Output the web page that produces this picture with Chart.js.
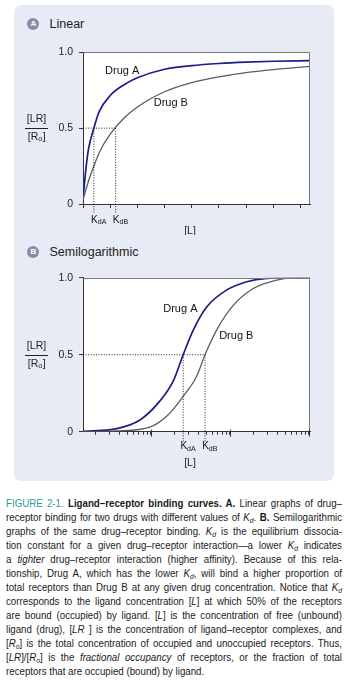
<!DOCTYPE html>
<html><head><meta charset="utf-8">
<script src="https://cdn.jsdelivr.net/npm/chart.js@4.4.1/dist/chart.umd.min.js"></script>
<style>
html,body{margin:0;padding:0;background:#fff;}
body{width:350px;height:681px;position:relative;overflow:hidden;font-family:'Liberation Sans',Arial,sans-serif;}
#panel{position:absolute;left:13.5px;top:5px;width:320.5px;height:476px;background:#e7ebf5;border-radius:7px;}
.badge{position:absolute;width:12px;height:12px;border-radius:50%;background:#8c8ca8;color:#fff;font:bold 8px 'Liberation Sans',sans-serif;text-align:center;line-height:12px;}
.ptitle{position:absolute;font-size:12.5px;color:#222;line-height:14px;white-space:nowrap;}
canvas{position:absolute;left:0;}
#cap{position:absolute;left:6px;top:496px;width:336px;font-family:'Liberation Sans',Arial,sans-serif;font-size:11.3px;line-height:14px;color:#1a1a1a;transform-origin:0 0;}
.l{text-align:justify;text-align-last:justify;height:14px;white-space:nowrap;}
.l.last{text-align-last:left;}
.fig{color:#2a9a98;}
sub{font-size:70%;vertical-align:-2px;line-height:0;}
</style></head>
<body>
<div id="panel"></div>
<div class="badge" style="left:27.3px;top:18.3px">A</div>
<div class="ptitle" style="left:49.5px;top:17.3px">Linear</div>
<div class="badge" style="left:27.3px;top:245.7px">B</div>
<div class="ptitle" style="left:49.5px;top:244.7px">Semilogarithmic</div>
<canvas id="cA" width="350" height="195" style="top:40px;width:350px;height:195px"></canvas>
<canvas id="cB" width="350" height="212" style="top:265px;width:350px;height:212px"></canvas>
<div id="cap">
<div class="l"><span class="fig">FIGURE 2-1.</span> <b>Ligand–receptor binding curves. A.</b> Linear graphs of drug–</div>
<div class="l">receptor binding for two drugs with different values of <i>K<sub>d</sub></i>. <b>B.</b> Semilogarithmic</div>
<div class="l">graphs of the same drug–receptor binding. <i>K<sub>d</sub></i> is the equilibrium dissocia-</div>
<div class="l">tion constant for a given drug–receptor interaction—a lower <i>K<sub>d</sub></i> indicates</div>
<div class="l">a <i>tighter</i> drug–receptor interaction (higher affinity). Because of this rela-</div>
<div class="l">tionship, Drug A, which has the lower <i>K<sub>d</sub></i>, will bind a higher proportion of</div>
<div class="l">total receptors than Drug B at any given drug concentration. Notice that <i>K<sub>d</sub></i></div>
<div class="l">corresponds to the ligand concentration [<i>L</i>] at which 50% of the receptors</div>
<div class="l">are bound (occupied) by ligand. [<i>L</i>] is the concentration of free (unbound)</div>
<div class="l">ligand (drug), [<i>LR</i> ] is the concentration of ligand–receptor complexes, and</div>
<div class="l">[<i>R<sub>o</sub></i>] is the total concentration of occupied and unoccupied receptors. Thus,</div>
<div class="l">[<i>LR</i>]/[<i>R<sub>o</sub></i>] is the <i>fractional occupancy</i> of receptors, or the fraction of total</div>
<div class="l last">receptors that are occupied (bound) by ligand.</div>
</div>
<script>
// ---- Data ----
// Panel A: linear [L] axis
const linL      = [0, 0.1, 0.2, 0.4, 0.6, 1.0, 1.5, 2, 3, 4, 5, 6, 7, 8.35];
const linDrugA  = [0.03, 0.22, 0.36, 0.5, 0.61, 0.715, 0.785, 0.832, 0.888, 0.912, 0.926, 0.935, 0.941, 0.945];
const linDrugB  = [0.03, 0.09, 0.15, 0.25, 0.34, 0.46, 0.565, 0.64, 0.74, 0.80, 0.838, 0.866, 0.886, 0.907];
const linTicks  = [0, 1, 2, 3, 4, 5, 6, 7, 8];
const linRange  = [0, 8.35];
const kdLin     = [0.4, 1.2];          // K_dA, K_dB
// Panel B: logarithmic [L] axis
const logLA     = [0.138, 0.368, 0.726, 1.3, 1.92, 2.56, 3.43, 5.07, 9.08, 16.3, 29.1, 60, 103];
const logDrugA  = [0.002, 0.02, 0.076, 0.2, 0.33, 0.5, 0.66, 0.81, 0.92, 0.974, 0.996, 1.0, 1.0];
const logLB     = [0.138, 0.368, 0.97, 1.58, 2.56, 3.79, 4.83, 6.78, 11, 19.7, 39, 70, 103];
const logDrugB  = [0.0, 0.005, 0.03, 0.1, 0.23, 0.36, 0.5, 0.66, 0.82, 0.93, 0.985, 1.0, 1.0];
const logTicks  = [0.2,0.3,0.4,0.5,0.6,0.7,0.8,0.9,1,2,3,4,5,6,7,8,9,10,20,30,40,50,60,70,80,90,100];
const logMajor  = [1, 10, 100];
const logRange  = [0.138, 103];
const kdLog     = [2.56, 4.83];        // K_dA, K_dB
// Shared
const yTicks    = [0, 0.5, 1];
const kdNames   = ['dA', 'dB'];
const seriesNames = ['Drug A', 'Drug B'];

const pts = (xs, ys) => xs.map((x, i) => ({x, y: ys[i]}));
const FONT = "'Liberation Sans', Arial, sans-serif";

function dotted(data){
  return {data, borderColor:'#222', borderWidth:1, borderDash:[1,1.6], pointRadius:0, clip:false, tension:0};
}

function framePlugin(o){
  return {
    id:'frame',
    beforeDraw(chart){
      const {ctx, chartArea:a} = chart;
      ctx.save(); ctx.fillStyle = '#fff';
      ctx.fillRect(a.left, a.top, a.right - a.left, a.bottom - a.top);
      ctx.restore();
    },
    afterDraw(chart){
      const {ctx, chartArea:a, scales} = chart;
      const xs = scales.x, ys = scales.y;
      ctx.save();
      ctx.strokeStyle = '#777'; ctx.lineWidth = 1;
      ctx.beginPath();
      ctx.moveTo(Math.round(a.left)+0.5, Math.round(a.top)+0.5);
      ctx.lineTo(Math.round(a.right)-0.5, Math.round(a.top)+0.5);
      ctx.lineTo(Math.round(a.right)-0.5, Math.round(a.bottom));
      ctx.stroke();
      if (o.major){
        ctx.strokeStyle = '#333';
        o.major.forEach(v => {
          const px = Math.round(xs.getPixelForValue(v)) + 0.5;
          ctx.beginPath(); ctx.moveTo(px, a.bottom - 2); ctx.lineTo(px, a.bottom + 5); ctx.stroke();
        });
      }
      ctx.fillStyle = '#111'; ctx.font = '11px ' + FONT;
      ctx.textAlign = 'left'; ctx.textBaseline = 'middle';
      o.labels.forEach((lb, i) => {
        ctx.fillText(seriesNames[i], xs.getPixelForValue(lb[0]), ys.getPixelForValue(lb[1]));
      });
      o.kd.forEach((k, i) => {
        const px = xs.getPixelForValue(k) - 2.8;
        const py = a.bottom + o.kdDy;
        ctx.font = '10px ' + FONT; ctx.textBaseline = 'middle';
        ctx.fillText('K', px, py);
        const w = ctx.measureText('K').width;
        ctx.font = '7px ' + FONT;
        ctx.fillText(kdNames[i], px + w, py + 2.5);
      });
      ctx.font = '10.5px ' + FONT; ctx.textAlign = 'center'; ctx.fillStyle = '#222';
      ctx.fillText('[L]', 190, a.bottom + o.xlDy);
      const yMid = ys.getPixelForValue(0.5);
      ctx.font = '10.5px ' + FONT;
      ctx.fillText('[LR]', 36.5, yMid - 9);
      const rw = ctx.measureText('[R').width, ow = ctx.measureText('o').width * 0.7, bw = ctx.measureText(']').width;
      const tot = rw + ow + bw; let sx = 36.5 - tot / 2;
      ctx.textAlign = 'left';
      ctx.fillText('[R', sx, yMid + 9);
      ctx.font = '7.5px ' + FONT; ctx.fillText('o', sx + rw, yMid + 11);
      ctx.font = '10.5px ' + FONT; ctx.fillText(']', sx + rw + ow + 0.5, yMid + 9);
      ctx.strokeStyle = '#222'; ctx.lineWidth = 1;
      ctx.beginPath(); ctx.moveTo(25, Math.round(yMid) + 0.5); ctx.lineTo(48, Math.round(yMid) + 0.5); ctx.stroke();
      ctx.restore();
    }
  };
}

function makeChart(id, o){
  const axisGrid = {display:true, drawOnChartArea:false, drawTicks:true, tickLength:o.tickLen, tickColor:'#333', tickWidth:1};
  return new Chart(document.getElementById(id), {
    type:'line',
    data:{datasets:[
      dotted([{x:o.range[0], y:0.5}, {x:o.kd[1], y:0.5}]),
      dotted([{x:o.kd[0], y:0.5}, {x:o.kd[0], y:o.below}]),
      dotted([{x:o.kd[1], y:0.5}, {x:o.kd[1], y:o.below}]),
      {data:o.b, borderColor:'#5c5c5c', borderWidth:1.3, pointRadius:0, cubicInterpolationMode:'monotone'},
      {data:o.a, borderColor:'#1d1d86', borderWidth:1.7, pointRadius:0, cubicInterpolationMode:'monotone'}
    ]},
    options:{
      responsive:false, animation:false, devicePixelRatio:1, events:[],
      layout:{padding:{top:o.padTop, right:40, left:0, bottom:0}},
      plugins:{legend:{display:false}, tooltip:{enabled:false}},
      scales:{
        x:{type:o.xType, min:o.range[0], max:o.range[1],
           afterBuildTicks:s => { s.ticks = o.ticks.map(v => ({value:v})); },
           afterFit:s => { s.height = o.xH; },
           ticks:{display:false},
           grid:axisGrid, border:{display:true, color:'#333', width:1}},
        y:{type:'linear', min:0, max:1,
           afterBuildTicks:s => { s.ticks = yTicks.map(v => ({value:v})); },
           afterFit:s => { s.width = 83; },
           ticks:{padding:6, color:'#222', font:{family:FONT, size:10.5},
                  callback:v => v === 0 ? '0' : v.toFixed(1)},
           grid:Object.assign({}, axisGrid, {tickLength:4}), border:{display:true, color:'#333', width:1}}
      }
    },
    plugins:[framePlugin(o)]
  });
}

makeChart('cA', {
  xType:'linear', range:linRange, ticks:linTicks, kd:kdLin, below:-0.065, tickLen:4,
  a:pts(linL, linDrugA), b:pts(linL, linDrugB),
  padTop:10, xH:31, kdDy:16, xlDy:27,
  labels:[[0.81, 0.877], [2.6, 0.665]]
});
makeChart('cB', {
  xType:'logarithmic', range:logRange, ticks:logTicks, major:logMajor, kd:kdLog, below:-0.07, tickLen:3,
  a:pts(logLA, logDrugA), b:pts(logLB, logDrugB),
  padTop:12.7, xH:45.3, kdDy:15, xlDy:31,
  labels:[[1.43, 0.80], [7.3, 0.62]]
});

// Condensed caption: compress horizontally so the widest line fits the 336px measure
(function(){
  const cap = document.getElementById('cap');
  const lines = cap.querySelectorAll('.l');
  let maxW = 0;
  lines.forEach(l => {
    const span = document.createElement('span');
    while (l.firstChild) span.appendChild(l.firstChild);
    l.appendChild(span);
    maxW = Math.max(maxW, span.getBoundingClientRect().width);
  });
  const s = Math.min(0.86, 336 / (maxW + 3));
  cap.style.width = (336 / s) + 'px';
  cap.style.transform = 'scaleX(' + s + ')';
  lines.forEach(l => { const span = l.firstChild; while (span.firstChild) l.insertBefore(span.firstChild, span); span.remove(); });
})();
</script>
</body></html>
